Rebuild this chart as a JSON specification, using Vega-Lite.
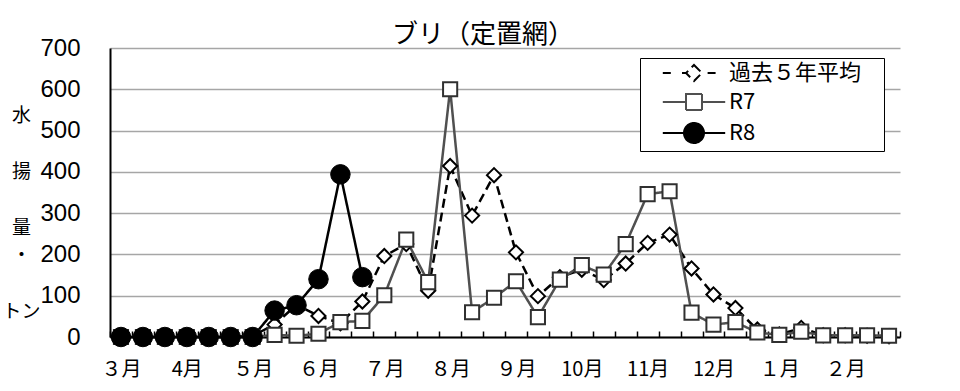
{
  "$schema": "https://vega.github.io/schema/vega-lite/v6.json",
  "width": 790,
  "height": 289,
  "autosize": {"type": "none"},
  "padding": {"left": 110, "top": 48, "right": 60, "bottom": 54},
  "background": "white",
  "config": {"view": {"stroke": null}},
  "title": {"text": "ブリ（定置網）", "font": "Noto Sans CJK JP", "fontSize": 26, "fontWeight": "normal", "color": "black", "anchor": "middle", "dx": -22, "offset": -12},
  "data": {"values": [
    {"i":0,"s":"過去５年平均","v":0},{"i":1,"s":"過去５年平均","v":0},{"i":2,"s":"過去５年平均","v":0},{"i":3,"s":"過去５年平均","v":0},{"i":4,"s":"過去５年平均","v":0},{"i":5,"s":"過去５年平均","v":0},{"i":6,"s":"過去５年平均","v":3},{"i":7,"s":"過去５年平均","v":30},{"i":8,"s":"過去５年平均","v":78},{"i":9,"s":"過去５年平均","v":51},{"i":10,"s":"過去５年平均","v":33},{"i":11,"s":"過去５年平均","v":86},{"i":12,"s":"過去５年平均","v":196},{"i":13,"s":"過去５年平均","v":225},{"i":14,"s":"過去５年平均","v":112},{"i":15,"s":"過去５年平均","v":414},{"i":16,"s":"過去５年平均","v":294},{"i":17,"s":"過去５年平均","v":392},{"i":18,"s":"過去５年平均","v":205},{"i":19,"s":"過去５年平均","v":99},{"i":20,"s":"過去５年平均","v":145},{"i":21,"s":"過去５年平均","v":163},{"i":22,"s":"過去５年平均","v":138},{"i":23,"s":"過去５年平均","v":178},{"i":24,"s":"過去５年平均","v":228},{"i":25,"s":"過去５年平均","v":248},{"i":26,"s":"過去５年平均","v":166},{"i":27,"s":"過去５年平均","v":103},{"i":28,"s":"過去５年平均","v":70},{"i":29,"s":"過去５年平均","v":18},{"i":30,"s":"過去５年平均","v":6},{"i":31,"s":"過去５年平均","v":22},{"i":32,"s":"過去５年平均","v":4},{"i":33,"s":"過去５年平均","v":4},{"i":34,"s":"過去５年平均","v":3},{"i":35,"s":"過去５年平均","v":2},
    {"i":0,"s":"R7","v":0},{"i":1,"s":"R7","v":0},{"i":2,"s":"R7","v":0},{"i":3,"s":"R7","v":0},{"i":4,"s":"R7","v":0},{"i":5,"s":"R7","v":0},{"i":6,"s":"R7","v":0},{"i":7,"s":"R7","v":5},{"i":8,"s":"R7","v":3},{"i":9,"s":"R7","v":8},{"i":10,"s":"R7","v":36},{"i":11,"s":"R7","v":39},{"i":12,"s":"R7","v":101},{"i":13,"s":"R7","v":236},{"i":14,"s":"R7","v":133},{"i":15,"s":"R7","v":600},{"i":16,"s":"R7","v":60},{"i":17,"s":"R7","v":95},{"i":18,"s":"R7","v":135},{"i":19,"s":"R7","v":48},{"i":20,"s":"R7","v":139},{"i":21,"s":"R7","v":174},{"i":22,"s":"R7","v":151},{"i":23,"s":"R7","v":225},{"i":24,"s":"R7","v":346},{"i":25,"s":"R7","v":353},{"i":26,"s":"R7","v":59},{"i":27,"s":"R7","v":30},{"i":28,"s":"R7","v":36},{"i":29,"s":"R7","v":11},{"i":30,"s":"R7","v":5},{"i":31,"s":"R7","v":13},{"i":32,"s":"R7","v":4},{"i":33,"s":"R7","v":4},{"i":34,"s":"R7","v":4},{"i":35,"s":"R7","v":3},
    {"i":0,"s":"R8","v":0},{"i":1,"s":"R8","v":0},{"i":2,"s":"R8","v":0},{"i":3,"s":"R8","v":0},{"i":4,"s":"R8","v":0},{"i":5,"s":"R8","v":0},{"i":6,"s":"R8","v":0},{"i":7,"s":"R8","v":64},{"i":8,"s":"R8","v":77},{"i":9,"s":"R8","v":140},{"i":10,"s":"R8","v":394},{"i":11,"s":"R8","v":145}
  ]},
  "encoding": {
    "x": {"field": "i", "type": "ordinal", "scale": {"type": "band", "paddingInner": 0, "paddingOuter": 0},
      "axis": {"title": null, "grid": false, "tickBand": "extent", "labelAngle": 0, "labelOverlap": false, "labelBound": false,
        "labelExpr": "datum.value % 3 == 0 ? ['３月','4月','５月','６月','７月','８月','９月','10月','11月','12月','１月','２月'][datum.value / 3] : ''",
        "labelFont": "Noto Sans CJK JP", "labelFontSize": 20, "labelColor": "black", "labelPadding": 28,
        "domainColor": "black", "domainWidth": 2, "tickColor": "black", "tickWidth": 1.5, "tickSize": -6}},
    "y": {"field": "v", "type": "quantitative", "scale": {"domain": [0, 700], "nice": false},
      "axis": {"values": [0,100,200,300,400,500,600,700], "ticks": false, "tickSize": 0, "labelPadding": 30,
        "labelFont": "Liberation Sans Narrow, Liberation Sans", "labelFontSize": 24, "labelColor": "black",
        "gridColor": "#a6a6a6", "gridWidth": 1.5, "domainColor": "black", "domainWidth": 2,
        "title": ["水", "\u2800", "揚", "\u2800", "量", "・", "\u2800", "トン"], "titleAngle": 0, "titleAlign": "center", "titleBaseline": "top",
        "titleX": -89, "titleY": 58, "titleFont": "Noto Sans CJK JP, DejaVu Sans", "titleFontSize": 19, "titleFontWeight": "normal",
        "titleLineHeight": 28, "titleColor": "black"}}
  },
  "layer": [
    {"mark": {"type": "line", "strokeWidth": 2.5},
     "encoding": {
       "color": {"field": "s", "type": "nominal", "scale": {"domain": ["過去５年平均", "R7", "R8"], "range": ["black", "#505050", "black"]},
         "legend": {"orient": "none", "legendX": 530, "legendY": 10, "title": "\u00a0", "titleOrient": "right", "titlePadding": 19, "titleFontSize": 12,
           "padding": 4, "symbolOffset": 39, "labelOffset": 24,
           "rowPadding": 5, "labelFontSize": 22, "labelFont": "Liberation Sans Narrow, Noto Sans CJK JP", "labelColor": "black",
           "strokeColor": "black", "fillColor": "white", "symbolSize": 256, "symbolStrokeWidth": 2,
           "encode": {"symbols": {"update": {
             "shape": {"signal": "datum.value === 'R8' ? 'M-3.9,0H-1.2M1.2,0H3.9M-1.25,0A1.25,1.25,0,1,0,1.25,0A1.25,1.25,0,1,0,-1.25,0Z' : datum.value === 'R7' ? 'M-3.9,0H-1M1,0H3.9M-1,-1H1V1H-1Z' : 'M-3.9,0H-2.9M-1.5,0H-1M1.7,0H2.7M0,-1L1,0L0,1L-1,0Z'"},
             "fill": {"signal": "datum.value === 'R8' ? 'black' : 'white'"},
             "stroke": {"signal": "datum.value === 'R7' ? '#404040' : 'black'"},
             "strokeWidth": {"value": 2},
             "strokeDash": {"value": []},
             "size": {"value": 256},
             "opacity": {"value": 1}}}}}},
       "strokeDash": {"field": "s", "type": "nominal", "scale": {"domain": ["過去５年平均", "R7", "R8"], "range": [[9, 5], [1, 0], [1, 0]]}, "legend": null}
     }},
    {"transform": [{"filter": "datum.s === '過去５年平均'"}],
     "mark": {"type": "point", "shape": "diamond", "filled": true, "fill": "white", "stroke": "black", "strokeWidth": 2, "size": 200, "opacity": 1}},
    {"transform": [{"filter": "datum.s === 'R7'"}],
     "mark": {"type": "point", "shape": "square", "filled": true, "fill": "white", "stroke": "#303030", "strokeWidth": 2, "size": 200, "opacity": 1}},
    {"transform": [{"filter": "datum.s === 'R8'"}],
     "mark": {"type": "point", "shape": "circle", "filled": true, "fill": "black", "stroke": "black", "strokeWidth": 1, "size": 380, "opacity": 1}}
  ]
}
